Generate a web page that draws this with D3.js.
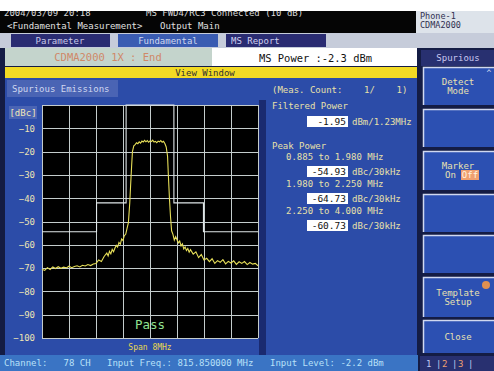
<!DOCTYPE html>
<html>
<head>
<meta charset="utf-8">
<script src="https://cdn.jsdelivr.net/npm/d3@7"></script>
<style>
  body { margin: 0; background: #141c44; }
  svg text { font-family: "DejaVu Sans Mono", monospace; white-space: pre; }
</style>
</head>
<body>
<svg id="screen" width="494" height="371"></svg>
<script>
// spectrum trace: offset from carrier (MHz) and level (dBc)
const freqs = [-4.0,-3.9,-3.8,-3.7,-3.6,-3.5,-3.4,-3.3,-3.2,-3.1,-3.0,-2.9,-2.8,-2.7,-2.6,-2.5,-2.4,-2.3,-2.2,-2.1,
  -2.0,-1.9,-1.8,-1.7,-1.6,-1.55,-1.5,-1.45,-1.4,-1.35,-1.3,-1.25,-1.2,-1.15,-1.1,-1.05,-1.0,-0.95,-0.9,-0.85,
  -0.8,-0.75,-0.72,-0.68,-0.65,-0.6,-0.55,-0.5,-0.45,-0.4,-0.35,-0.3,-0.25,-0.2,-0.15,-0.1,-0.05,0,0.05,0.1,
  0.15,0.2,0.25,0.3,0.35,0.4,0.45,0.5,0.55,0.6,0.65,0.68,0.72,0.76,0.8,0.85,0.9,0.95,1.0,1.05,
  1.1,1.15,1.2,1.25,1.3,1.35,1.4,1.45,1.5,1.6,1.7,1.8,1.9,2.0,2.1,2.2,2.3,2.4,2.5,2.6,
  2.7,2.8,2.9,3.0,3.1,3.2,3.3,3.4,3.5,3.6,3.7,3.8,3.9,4.0];
const levels = [-70.5,-71,-69.8,-70.6,-69.5,-70.2,-69.4,-70.1,-69.6,-69.9,-69.2,-69.8,-69.3,-69.0,-69.5,-68.8,-69.1,-68.5,-68.9,-68.2,
  -68.0,-66.5,-67.2,-65.0,-63.5,-64.8,-62.8,-63.9,-62.0,-63.0,-61.5,-60.2,-61.0,-59.0,-59.8,-57.5,-58.2,-56.0,-55.5,-53.0,
  -50.5,-42,-35,-26,-20,-17.5,-17,-16.2,-16.6,-15.8,-16.4,-15.5,-15.9,-15.2,-15.8,-15.3,-16.0,-15.4,-15.7,-15.1,
  -15.9,-15.6,-16.2,-15.5,-15.8,-15.3,-16.0,-15.6,-16.5,-18,-22,-30,-40,-48,-54,-55.5,-58,-56.5,-57.8,-59.2,
  -58.4,-60.5,-59.6,-61.8,-60.9,-62.5,-61.6,-63.2,-62.1,-64.0,-63.0,-65.5,-64.2,-66.5,-65.8,-67.2,-66.0,-68.0,-66.8,-67.5,
  -66.4,-68.2,-67.1,-67.8,-66.9,-68.4,-67.3,-68.0,-67.2,-68.5,-67.6,-68.3,-68.0,-69.0];

// limit template (MHz, dBc)
const maskFreqs = [-4.0,-1.98,-1.98,-0.885,-0.885,0.885,0.885,1.98,1.98,4.0];
const maskLevels = [-54.4,-54.4,-42,-42,0,0,-42,-42,-54.4,-54.4];

const yTicks = [-10,-20,-30,-40,-50,-60,-70,-80,-90,-100];
const xTicks = [-4,-3,-2,-1,0,1,2,3,4];

const rangeLabels = ["0.885 to 1.980 MHz", "1.980 to 2.250 MHz", "2.250 to 4.000 MHz"];
const peakValues = ["-54.93", "-64.73", "-60.73"];
const softKeys = [["Detect","Mode"], [], ["Marker","On Off"], [], [], ["Template","Setup"], ["Close"]];

const svg = d3.select("#screen");

function rect(x, y, w, h, fill) {
  return svg.append("rect").attr("x", x).attr("y", y).attr("width", w).attr("height", h).attr("fill", fill);
}
function text(x, y, s, fill, size, anchor) {
  return svg.append("text").attr("x", x).attr("y", y).text(s)
    .attr("fill", fill).attr("font-size", size || 9).attr("text-anchor", anchor || "start");
}

// header
rect(0, 10, 416, 23, "#050505");
rect(416, 10, 78, 23, "#dde3ea");
text(4, 16, "2004/03/09 20:18", "#d8d8d8", 9);
text(146, 16, "MS FWD4/RC3 Connected (10 dB)", "#d8d8d8", 9);
rect(0, 0, 494, 11, "#ffffff");
text(7, 29, "<Fundamental Measurement>", "#e0e0e0", 9);
text(160, 29, "Output Main", "#e0e0e0", 9);
text(420, 19, "Phone-1", "#303050", 8.5);
text(420, 28, "CDMA2000", "#303050", 8.5);

// tabs
rect(0, 33, 494, 15, "#c6ccda");
rect(11, 34, 99, 13, "#2a2c72");
rect(118, 34, 100, 13, "#3a5cb2");
rect(226, 34, 100, 13, "#2a2c72");
text(60, 44, "Parameter", "#c8c8e8", 9, "middle");
text(168, 44, "Fundamental", "#d0d8f0", 9, "middle");
text(231, 44, "MS Report", "#d0d0f0", 9);

// status row
rect(0, 48, 494, 19, "#141c44");
rect(5, 48, 207, 18, "#c4d4cc");
rect(212, 48, 205, 18, "#ffffff");
text(108, 61, "CDMA2000 1X : End", "#d08868", 10.5, "middle");
text(259, 62, "MS Power :-2.3 dBm", "#111111", 11)
  .attr("font-family", "Liberation Serif, serif")
  .attr("textLength", 113).attr("lengthAdjust", "spacingAndGlyphs");
rect(421, 50, 73, 16, "#283070");
text(458, 61, "Spurious", "#c8c8f0", 9, "middle");

rect(5, 67, 412, 11, "#f2da24");
text(205, 76, "View Window", "#303030", 9, "middle");

// main panels
rect(5, 78, 412, 277, "#2c4ca8");
rect(259, 100, 7, 255, "#1a2a70");
rect(7, 80, 111, 17, "#4a64b4");
text(12, 92, "Spurious Emissions", "#d0d8f0", 9);

// plot
const x = d3.scaleLinear().domain([-4, 4]).range([42, 258]);
const y = d3.scaleLinear().domain([0, -100]).range([105, 338]);

rect(x(-4), y(0), x(4) - x(-4), y(-100) - y(0), "#000000");

const grid = svg.append("g").attr("stroke", "#c4cccc").attr("stroke-width", 1);
grid.selectAll("line.v").data(xTicks).enter().append("line")
  .attr("x1", d => Math.round(x(d)) + 0.5).attr("x2", d => Math.round(x(d)) + 0.5)
  .attr("y1", y(0)).attr("y2", y(-100));
grid.selectAll("line.h").data([0].concat(yTicks)).enter().append("line")
  .attr("y1", d => Math.round(y(d)) + 0.5).attr("y2", d => Math.round(y(d)) + 0.5)
  .attr("x1", x(-4)).attr("x2", x(4));

// template
const mask = maskFreqs.map((f, i) => [f, maskLevels[i]]);
svg.append("path").datum(mask)
  .attr("d", d3.line().x(d => x(d[0])).y(d => y(d[1])))
  .attr("fill", "none").attr("stroke", "#dfe6e8").attr("stroke-width", 1.1);

// trace
const trace = freqs.map((f, i) => [f, levels[i]]);
svg.append("path").datum(trace)
  .attr("d", d3.line().x(d => x(d[0])).y(d => y(d[1])))
  .attr("fill", "none").attr("stroke", "#e6de58").attr("stroke-width", 1.1);

// y axis labels
rect(9, 106, 28, 13, "#4a64b4");
text(23, 116, "[dBc]", "#f0e8b8", 9, "middle");
const yAxis = svg.append("g").attr("transform", "translate(35,0)")
  .call(d3.axisLeft(y).tickValues(yTicks).tickSize(0).tickPadding(0));
yAxis.select(".domain").remove();
yAxis.selectAll("text").attr("fill", "#ece4b4").attr("font-size", 9)
  .attr("font-family", "DejaVu Sans Mono, monospace");

text(150, 329, "Pass", "#90e090", 12.5, "middle").attr("font-family", "Liberation Serif, serif");
text(150, 350, "Span 8MHz", "#e8d850", 8, "middle");

// measurement results
const lab = "#e8e0a8";
text(272, 93, "(Meas. Count:    1/    1)", lab, 9);
text(272, 109, "Filtered Power", lab, 9);
rect(307, 116, 41, 11, "#ffffff");
text(346, 125, "-1.95", "#111111", 9.5, "end");
text(352, 125, "dBm/1.23MHz", lab, 9);
text(272, 149, "Peak Power", lab, 9);
rangeLabels.forEach((s, i) => {
  const top = 160 + i * 27;
  text(286, top, s, lab, 9);
  rect(307, top + 6, 41, 11, "#ffffff");
  text(346, top + 15, peakValues[i], "#111111", 9.5, "end");
  text(352, top + 15, "dBc/30kHz", lab, 9);
});

// soft keys
const keyTops = [67, 109, 151, 194, 235, 277, 320];
const keyBottoms = [105, 147, 190, 232, 273, 317, 353];
softKeys.forEach((lines, i) => {
  const t = keyTops[i], h = keyBottoms[i] - t;
  rect(423, t, 71, h, "#2c50b2");
  svg.append("path").attr("d", `M423.5,${t + h}V${t + 0.5}H494`)
    .attr("stroke", "#d0d8f0").attr("stroke-width", 1.5).attr("fill", "none");
  const cy = t + h / 2 - (lines.length - 1) * 4.5 + 3;
  lines.forEach((s, j) => {
    if (s === "On Off") {
      text(445, cy + j * 9, "On", "#e8e0b0", 9);
      rect(461, cy + j * 9 - 8, 18, 10, "#f0a070");
      text(470, cy + j * 9, "Off", "#fff4e0", 9, "middle");
    } else {
      text(458, cy + j * 9, s, "#e8e0b0", 9, "middle");
    }
  });
});
text(489, 76, "^", "#d0d8f0", 8, "middle");
svg.append("circle").attr("cx", 486).attr("cy", 285).attr("r", 4).attr("fill", "#e09050");

// bottom bar
rect(0, 355, 418, 16, "#3a74c4");
text(4, 366, "Channel:   78 CH", "#b8e0f8", 9);
text(107, 366, "Input Freq.: 815.850000 MHz", "#b8e0f8", 9);
text(270, 366, "Input Level: -2.2 dBm", "#b8e0f8", 9);
rect(420, 356, 74, 15, "#283070");
text(426, 367, "1", "#c0c8f0", 9);
text(436, 367, "|", "#c0c8f0", 9);
text(442, 367, "2", "#f0a070", 9);
text(452, 367, "|", "#c0c8f0", 9);
text(458, 367, "3", "#f0a070", 9);
text(468, 367, "|", "#c0c8f0", 9);
</script>
</body>
</html>
